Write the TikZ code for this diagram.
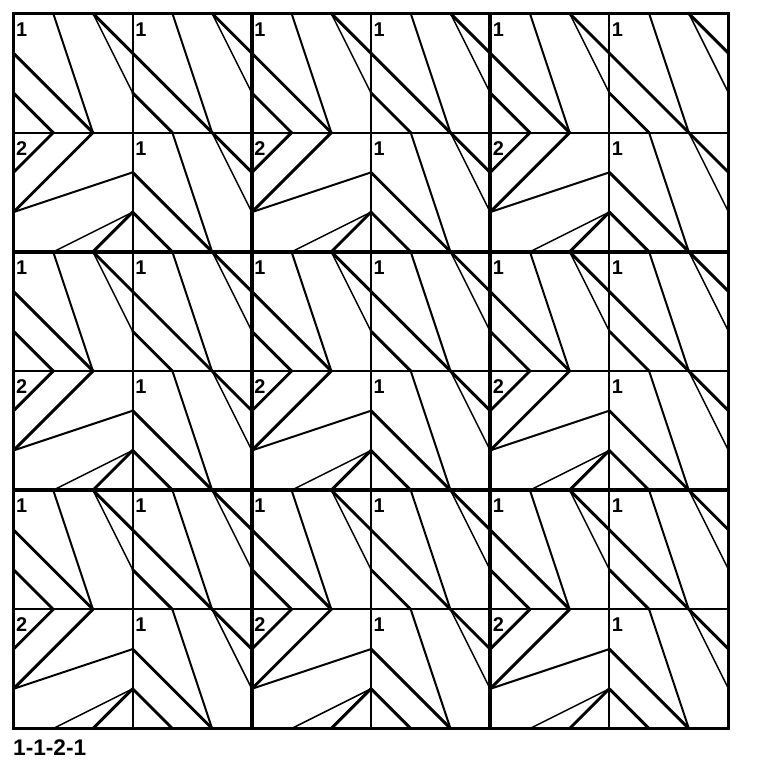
\documentclass[tikz,border=0pt]{standalone}
\usepackage{fontspec}
\setmainfont{Liberation Sans}
\begin{document}
\begin{tikzpicture}[x=0.03cm,y=-0.03cm,
  thickln/.style={line width=2.5pt, line cap=round, line join=round},
  medln/.style={line width=1.7pt, line cap=round},
  thinln/.style={line width=1.25pt, line cap=round},
  gridln/.style={line width=1.6pt},
  blockln/.style={line width=3.0pt},
  borderln/.style={line width=2.0pt},
  tilelbl/.style={font=\bfseries\fontsize{17}{18}\selectfont, anchor=base west, inner sep=0pt},
  titlelbl/.style={font=\bfseries\fontsize{19.3}{21}\selectfont, anchor=base west, inner sep=0pt},
]
\useasboundingbox (0,0) rectangle (768,768);
\def\O{13.5}\def\C{119.17}
% thin cell grid
\foreach \k in {1,3,5}{
  \draw[gridln] ({\O+\k*\C},\O) -- ({\O+\k*\C},{\O+6*\C});
  \draw[gridln] (\O,{\O+\k*\C}) -- ({\O+6*\C},{\O+\k*\C});
}
% tiles
\foreach \i in {0,...,5}{
  \foreach \j in {0,...,5}{
    \pgfmathsetmacro\bx{\O+\i*\C}
    \pgfmathsetmacro\by{\O+\j*\C}
    \pgfmathtruncatemacro\ty{(mod(\i,2)==0 && mod(\j,2)==1) ? 2 : 1}
    \begin{scope}[shift={(\bx,\by)}, scale=39.723]
      \ifnum\ty=1
        \draw[thickln] (0,1) -- (2,3);
        \draw[thickln] (0,2) -- (1,3);
        \draw[thickln] (2,0) -- (3,1);
        \draw[medln] (1,0) -- (2,3);
        \draw[thinln] (2,0) -- (3,2);
      \else
        \draw[thickln] (2,0) -- (0,2);
        \draw[thickln] (1,0) -- (0,1);
        \draw[thickln] (3,2) -- (2,3);
        \draw[medln] (3,1) -- (0,2);
        \draw[thinln] (3,2) -- (1,3);
      \fi
    \end{scope}
    \node[tilelbl] (l\i\j) at ({\bx+2.4},{\by+22.6}) {\ty};
  }
}
% block lines
\foreach \k in {2,4}{
  \draw[blockln] ({\O+\k*\C},\O) -- ({\O+\k*\C},{\O+6*\C});
  \draw[blockln] (\O,{\O+\k*\C}) -- ({\O+6*\C},{\O+\k*\C});
}
\draw[borderln] (\O,\O) rectangle ({\O+6*\C},{\O+6*\C});
\node[titlelbl] (title) at (13,755) {1-1-2-1};
\end{tikzpicture}
\end{document}
